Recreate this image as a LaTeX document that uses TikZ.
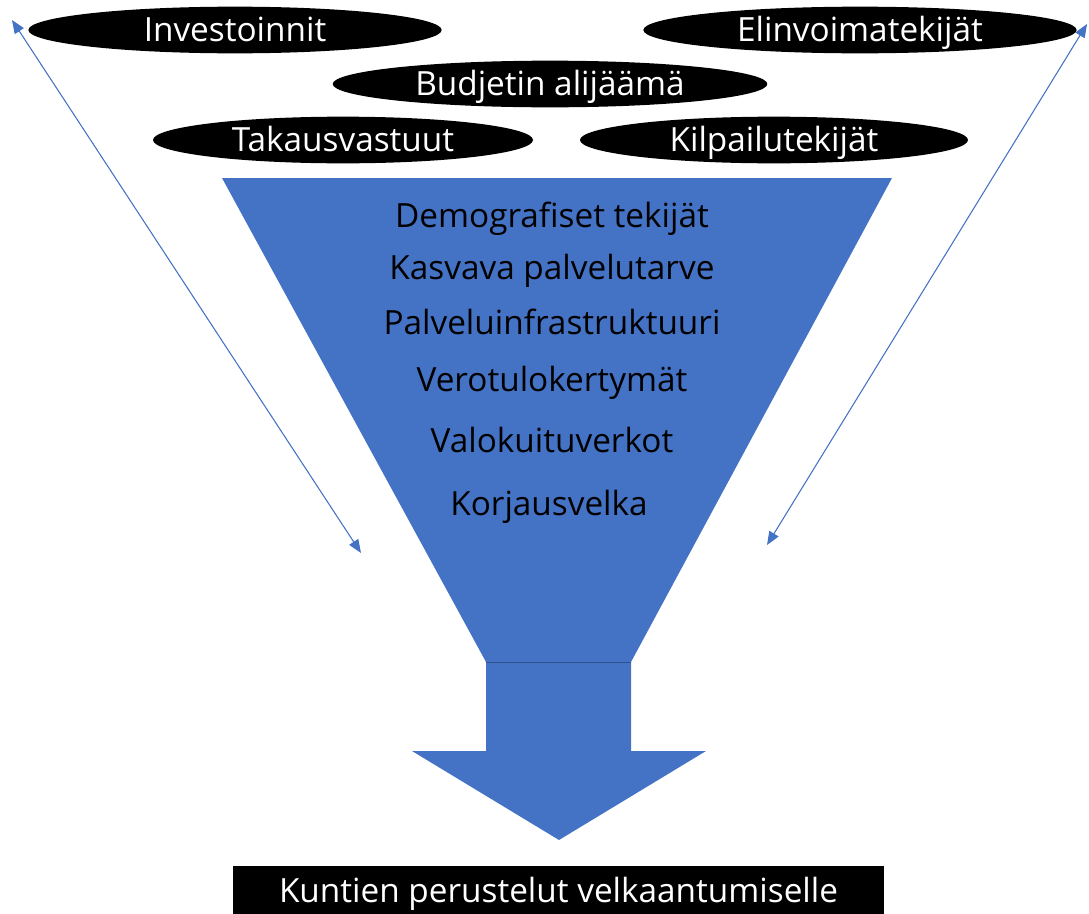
\documentclass[tikz,border=0pt]{standalone}
\usepackage{fontspec}
\setmainfont{Open Sans}
\usetikzlibrary{shapes.geometric,arrows.meta}
\definecolor{officeblue}{HTML}{4472C4}
\definecolor{edgeblue}{HTML}{2F528F}
\begin{document}
\begin{tikzpicture}[x=0.75pt,y=-0.75pt,
  label font/.style={font=\fontsize{25}{28}\selectfont,
    text height=17.85pt, text depth=0pt},
  factor/.style={ellipse, fill=black, text=white, inner sep=0pt,
    minimum height=35pt, label font},
  cause/.style={text=black, inner sep=0pt, label font},
  link/.style={officeblue, line width=0.8pt,
    {Triangle[length=10pt,width=8pt]}-{Triangle[length=10pt,width=8pt]}}]
\useasboundingbox (0,0) rectangle (1089,914);

% funnel body and outlet arrow
\fill[officeblue] (222,178) -- (892,178) -- (631,662) -- (486,662) -- cycle;
\fill[officeblue] (486,662) -- (631,662) -- (631,751) -- (706,751)
  -- (559,840) -- (412,751) -- (486,751) -- cycle;
\draw[edgeblue, line width=0.6pt] (486,662) -- (631,662);

% external factors
\node[factor, minimum width=310pt] (inv) at (235,30) {Investoinnit};
\node[factor, minimum width=325pt] (eli) at (860,30) {Elinvoimatekijät};
\node[factor, minimum width=326pt] (bud) at (550,84) {Budjetin alijäämä};
\node[factor, minimum width=285pt] (tak) at (343,140) {Takausvastuut};
\node[factor, minimum width=291pt] (kil) at (774,140) {Kilpailutekijät};

% factors inside the funnel
\node[cause] (dem) at (552,216) {Demografiset tekijät};
\node[cause] (kas) at (552,268) {Kasvava palvelutarve};
\node[cause] (pal) at (552,323) {Palveluinfrastruktuuri};
\node[cause] (ver) at (552,380) {Verotulokertymät};
\node[cause] (val) at (552,441) {Valokuituverkot};
\node[cause] (kor) at (549,504) {Korjausvelka};

% result
\node[fill=black, text=white, inner sep=0pt, minimum width=488pt,
  minimum height=40pt, anchor=north] (res) at (558.5,866) {};
\node[text=white, inner sep=0pt, label font]
  (restxt) at (558.5,891) {Kuntien perustelut velkaantumiselle};

% double-headed side arrows
\coordinate (la) at (12,20);
\coordinate (lb) at (361,553);
\coordinate (ra) at (1087,24);
\coordinate (rb) at (767,545);
\draw[link] (la) -- (lb);
\draw[link] (ra) -- (rb);
\end{tikzpicture}
\end{document}
